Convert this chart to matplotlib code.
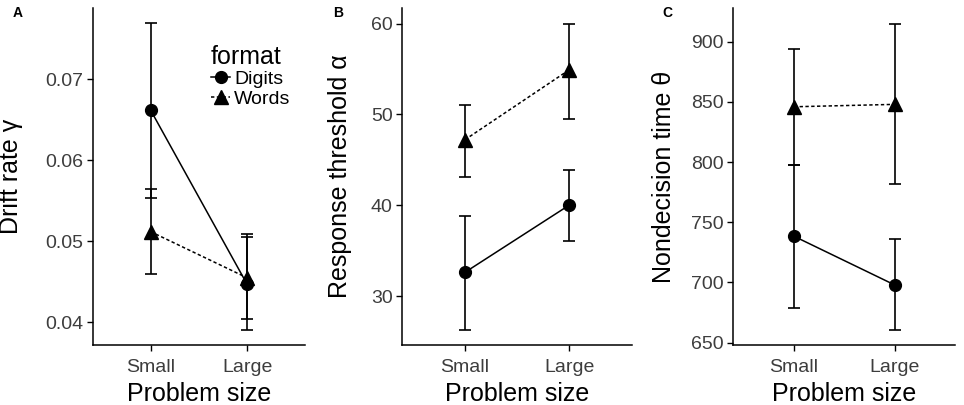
import matplotlib
matplotlib.use('Agg')
import matplotlib.pyplot as plt

plt.rcParams['font.family'] = ['Liberation Sans', 'DejaVu Sans']

sizes = ['Small', 'Large']
formats = ['Digits', 'Words']

# panel A: drift rate
drift_mean = {'Digits': [0.0662, 0.0447], 'Words': [0.0512, 0.0455]}
drift_lo = {'Digits': [0.0554, 0.0390], 'Words': [0.0460, 0.0404]}
drift_hi = {'Digits': [0.0769, 0.0506], 'Words': [0.0565, 0.0509]}

# panel B: response threshold
thresh_mean = {'Digits': [32.6, 40.0], 'Words': [47.2, 54.9]}
thresh_lo = {'Digits': [26.3, 36.1], 'Words': [43.1, 49.5]}
thresh_hi = {'Digits': [38.8, 43.9], 'Words': [51.0, 60.0]}

# panel C: nondecision time
ndt_mean = {'Digits': [738.5, 698.0], 'Words': [846.0, 848.0]}
ndt_lo = {'Digits': [678.5, 660.7], 'Words': [798.0, 782.0]}
ndt_hi = {'Digits': [798.0, 736.0], 'Words': [894.0, 915.0]}

markers = {'Digits': 'o', 'Words': '^'}
styles = {'Digits': '-', 'Words': (0, (2.2, 1.6))}

fig = plt.figure(figsize=(9.64, 4.05), dpi=100)

panels = [
    ('A', [0.0962, 0.148, 0.2202, 0.832], drift_mean, drift_lo, drift_hi,
     'Drift rate γ', (0.0372, 0.0788), [0.04, 0.05, 0.06, 0.07], ['0.04', '0.05', '0.06', '0.07']),
    ('B', [0.4173, 0.148, 0.238, 0.832], thresh_mean, thresh_lo, thresh_hi,
     'Response threshold α', (24.6, 61.7), [30, 40, 50, 60], ['30', '40', '50', '60']),
    ('C', [0.7607, 0.148, 0.230, 0.832], ndt_mean, ndt_lo, ndt_hi,
     'Nondecision time θ', (648, 928), [650, 700, 750, 800, 850, 900],
     ['650', '700', '750', '800', '850', '900']),
]

label_x = {'A': 13 / 964, 'B': 333 / 964, 'C': 662 / 964}
ylab_x = {'A': -0.327, 'B': -0.221, 'C': -0.258}

x = [1, 2]
for name, pos, mean, lo, hi, ylab, ylim, yt, ytl in panels:
    ax = fig.add_axes(pos)
    for f in formats:
        yerr = [[m - l for m, l in zip(mean[f], lo[f])],
                [h - m for m, h in zip(mean[f], hi[f])]]
        ax.errorbar(x, mean[f], yerr=yerr, fmt='none', ecolor='black',
                    elinewidth=1.2, capsize=4.5, capthick=1.2, zorder=2)
        ax.plot(x, mean[f], color='black', linestyle=styles[f], linewidth=1.1,
                marker=markers[f], markersize=9.5 if f == 'Words' else 8.5,
                label=f, zorder=3)
    ax.set_xlim(0.4, 2.6)
    ax.set_ylim(*ylim)
    ax.set_xticks(x)
    ax.set_xticklabels(sizes)
    ax.set_yticks(yt)
    ax.set_yticklabels(ytl)
    for s in ['top', 'right']:
        ax.spines[s].set_visible(False)
    for s in ['left', 'bottom']:
        ax.spines[s].set_linewidth(1.1)
    ax.tick_params(axis='both', labelsize=14, colors='black', labelcolor='#3d3d3d',
                   length=4, width=1.0, pad=3)
    ax.tick_params(axis='x', pad=6)
    ax.set_xlabel('Problem size', fontsize=18, labelpad=4)
    ax.set_ylabel(ylab, fontsize=18)
    ax.yaxis.set_label_coords(ylab_x[name], 0.5)
    fig.text(label_x[name], 0.985, name, fontsize=10, fontweight='bold', va='top', ha='left')
    if name == 'A':
        leg = ax.legend(title='format', loc='upper left', bbox_to_anchor=(0.52, 0.915),
                        frameon=False, fontsize=14, title_fontsize=18,
                        handlelength=1.0, handletextpad=0.2, labelspacing=0.1,
                        borderaxespad=0)
        leg._legend_box.align = 'left'

fig.savefig('out.png', dpi=100)
